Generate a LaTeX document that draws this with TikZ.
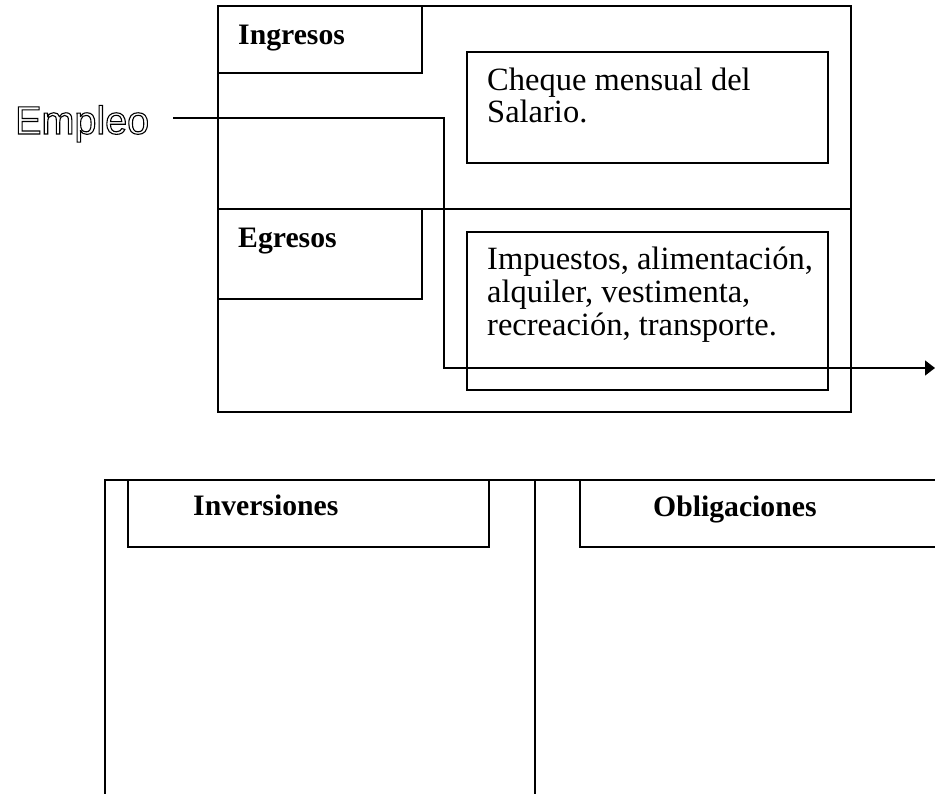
\documentclass[tikz,border=0pt]{standalone}
\usepackage{fontspec}
\setmainfont{Liberation Serif}
\newfontfamily\arialfont{Liberation Sans}
\usetikzlibrary{arrows.meta}

% texto con contorno (sin relleno)
\newcommand{\contorno}[1]{\special{pdf:literal direct 1 Tr 1.1 w}#1\special{pdf:literal direct 0 Tr}}

\tikzset{
  caja/.style={line width=1.4pt},
  titulo/.style={anchor=base west, inner sep=0pt, font=\fontsize{29.7}{34}\selectfont\bfseries},
  texto/.style={anchor=base west, inner sep=0pt, font=\fontsize{32.5}{33}\selectfont},
}

\begin{document}
\begin{tikzpicture}[x=1pt,y=-1pt]
  \useasboundingbox (0,0) rectangle (935,794);

  % Cuadro superior
  \draw[caja] (218,6) rectangle (851,412);
  \draw[caja] (218,209) -- (851,209);
  \draw[caja] (218,6) rectangle (422,73);
  \draw[caja] (218,209) rectangle (422,299);
  \draw[caja] (467,52) rectangle (828,163);
  \draw[caja] (467,232) rectangle (828,390);

  \node[titulo] (ingresos) at (238,45) {Ingresos};
  \node[titulo] (egresos) at (238,248) {Egresos};

  \foreach \t [count=\i] in {{Cheque mensual del},{Salario.}} {
    \node[texto] (cheque\i) at (487,{91+32*(\i-1)}) {\t};
  }
  \foreach \t [count=\i] in {{Impuestos, alimentación,},{alquiler, vestimenta,},{recreación, transporte.}} {
    \node[texto] (gasto\i) at (487,{270+33*(\i-1)}) {\t};
  }

  % Empleo
  \node[anchor=base west, inner sep=0pt, font=\arialfont\fontsize{39.5}{41}\selectfont] (empleo) at (15,134) {\contorno{Empleo}};
  \coordinate (salida) at (173,118);
  \coordinate (llegada) at (935,368);
  \draw[caja,-{Triangle[length=10pt,width=15pt]}] (salida) -| (444,368) -- (llegada);

  % Cuadro inferior
  \draw[caja] (105,794) -- (105,480) -- (935,480);
  \draw[caja] (535,480) -- (535,794);
  \draw[caja] (128,480) -- (128,547) -- (489,547) -- (489,480);
  \draw[caja] (580,480) -- (580,547) -- (935,547);

  \node[titulo] (inversiones) at (193,515) {Inversiones};
  \node[titulo] (obligaciones) at (653,516) {Obligaciones};

\end{tikzpicture}
\end{document}
